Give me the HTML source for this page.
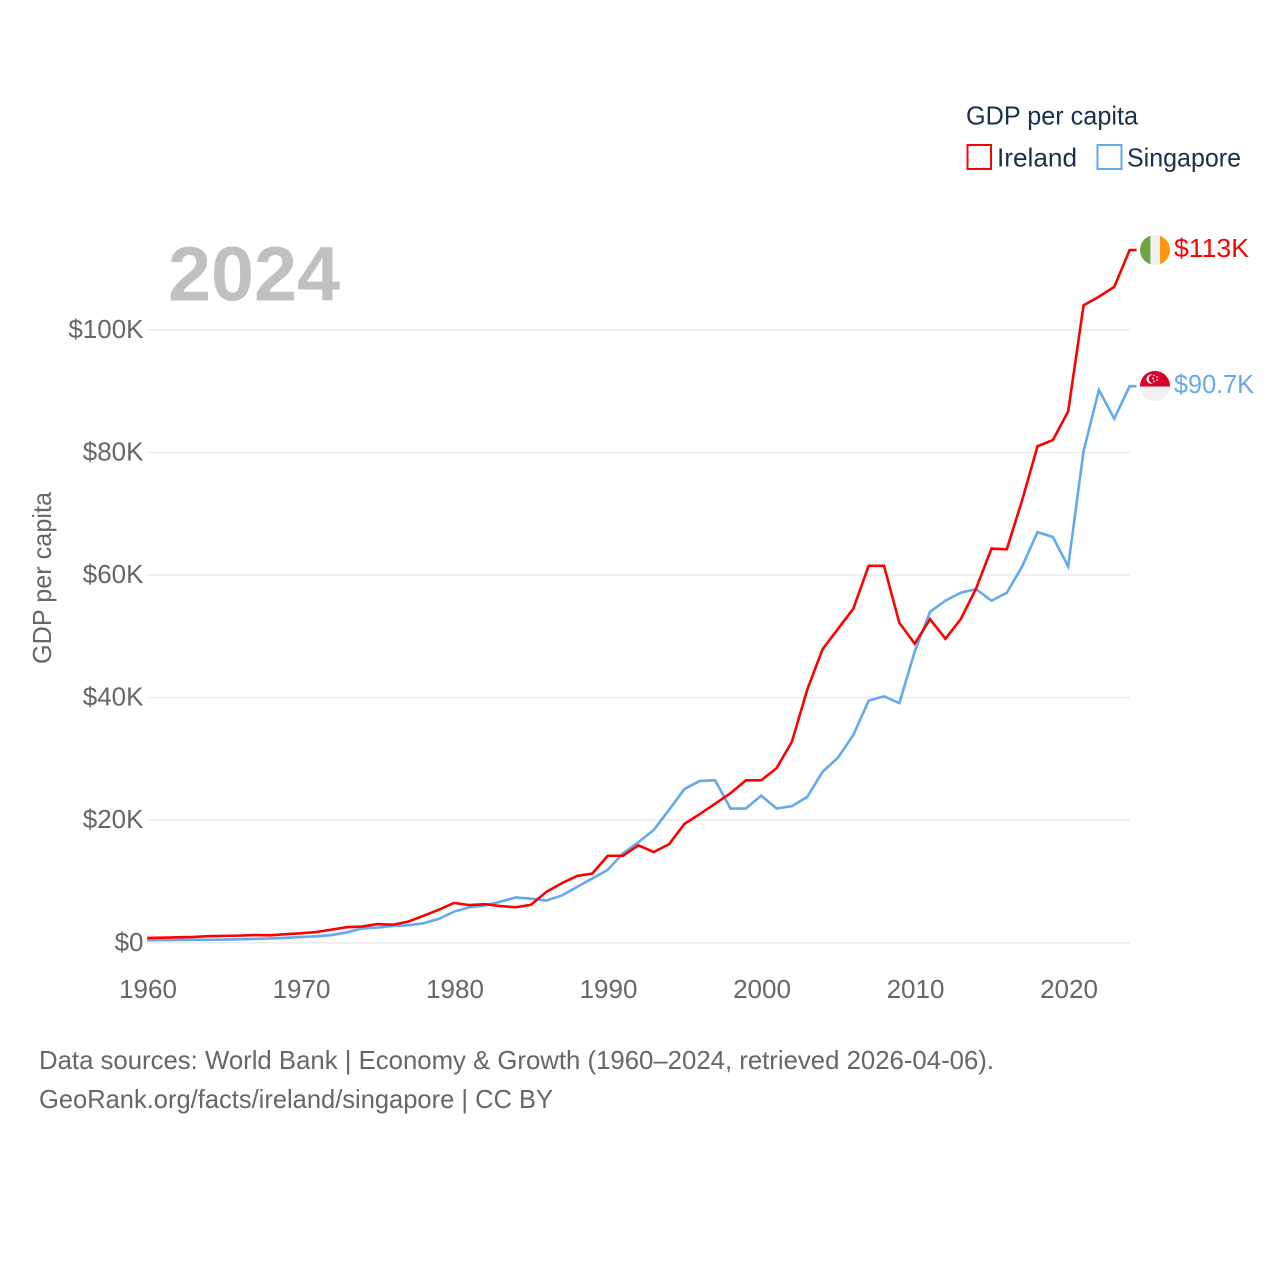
<!DOCTYPE html>
<html lang="en">
<head>
<meta charset="utf-8">
<title>GDP per capita: Ireland vs Singapore</title>
<style>
  html, body { margin: 0; padding: 0; background: #fff; }
  svg { display: block; font-family: "Liberation Sans", sans-serif; }
  .tick { font-size: 26px; fill: #666; }
  .legend { font-size: 26px; fill: #1a2f4f; }
  .foot { font-size: 26px; fill: #666; }
</style>
</head>
<body>
<svg id="chart" xmlns="http://www.w3.org/2000/svg" width="1280" height="1280" viewBox="0 0 1280 1280">
  <defs>
    <clipPath id="flag-clip-ie"><circle cx="1155" cy="250" r="15"/></clipPath>
    <clipPath id="flag-clip-sg"><circle cx="1155" cy="386" r="15"/></clipPath>
  </defs>
  <rect x="0" y="0" width="1280" height="1280" fill="#fff"/>

  <g id="grid"></g>
  <g id="yticks"></g>
  <g id="xticks"></g>

  <text x="168" y="300.5" font-size="77" font-weight="700" fill="#c0c0c0" textLength="172" lengthAdjust="spacingAndGlyphs">2024</text>
  <text transform="translate(51,664) rotate(-90)" font-size="26" fill="#666" textLength="172" lengthAdjust="spacingAndGlyphs">GDP per capita</text>

  <g id="series"></g>

  <g>
    <text class="legend" x="966" y="124.5" textLength="172" lengthAdjust="spacingAndGlyphs">GDP per capita</text>
    <g>
      <rect x="967.5" y="145" width="23.5" height="24" fill="none" stroke="#ff0000" stroke-width="2"/>
      <text class="legend" x="997" y="166.5" textLength="80" lengthAdjust="spacingAndGlyphs">Ireland</text>
    </g>
    <g>
      <rect x="1097.5" y="145" width="24" height="24" fill="none" stroke="#63a9ee" stroke-width="2"/>
      <text class="legend" x="1127" y="166.5" textLength="114" lengthAdjust="spacingAndGlyphs">Singapore</text>
    </g>
  </g>

  <g clip-path="url(#flag-clip-ie)">
    <rect x="1140" y="235" width="30" height="30" fill="#f0f0f0"/>
    <rect x="1140" y="235" width="10.4" height="30" fill="#6da544"/>
    <rect x="1160" y="235" width="10" height="30" fill="#ff9811"/>
  </g>
  <g clip-path="url(#flag-clip-sg)">
    <rect x="1140" y="371" width="30" height="30" fill="#f0f0f0"/>
    <rect x="1140" y="371" width="30" height="15.5" fill="#d80027"/>
    <circle cx="1151" cy="379" r="4.6" fill="#f0f0f0"/>
    <circle cx="1153" cy="379" r="4.2" fill="#d80027"/>
    <circle cx="1154" cy="375.5" r="0.9" fill="#f0f0f0"/>
    <circle cx="1157" cy="377" r="0.9" fill="#f0f0f0"/>
    <circle cx="1157" cy="380" r="0.9" fill="#f0f0f0"/>
    <circle cx="1154" cy="381.5" r="0.9" fill="#f0f0f0"/>
    <circle cx="1153" cy="378.5" r="0.9" fill="#f0f0f0"/>
  </g>

  <g id="endlabels"></g>

  <text class="foot" x="39" y="1069" textLength="955" lengthAdjust="spacingAndGlyphs">Data sources: World Bank | Economy &amp; Growth (1960–2024, retrieved 2026-04-06).</text>
  <text class="foot" x="39" y="1108" textLength="514" lengthAdjust="spacingAndGlyphs">GeoRank.org/facts/ireland/singapore | CC BY</text>
</svg>

<script>
const years = [1960,1961,1962,1963,1964,1965,1966,1967,1968,1969,
  1970,1971,1972,1973,1974,1975,1976,1977,1978,1979,
  1980,1981,1982,1983,1984,1985,1986,1987,1988,1989,
  1990,1991,1992,1993,1994,1995,1996,1997,1998,1999,
  2000,2001,2002,2003,2004,2005,2006,2007,2008,2009,
  2010,2011,2012,2013,2014,2015,2016,2017,2018,2019,
  2020,2021,2022,2023,2024];
const irelandGdp = [0.79,0.84,0.89,0.95,1.08,1.13,1.17,1.26,1.22,1.41,
  1.55,1.75,2.15,2.55,2.65,3.05,2.95,3.45,4.4,5.4,
  6.5,6.15,6.3,6.0,5.8,6.2,8.3,9.7,10.9,11.3,
  14.2,14.2,15.9,14.8,16.1,19.4,21.0,22.7,24.4,26.5,
  26.5,28.5,32.8,41.3,47.9,51.2,54.5,61.5,61.5,52.2,
  48.8,52.8,49.6,52.8,57.8,64.3,64.2,72.2,81.0,82.0,
  86.7,104.0,105.4,107.0,113.0];
const singaporeGdp = [0.43,0.45,0.47,0.50,0.49,0.52,0.57,0.63,0.71,0.82,
  0.93,1.06,1.26,1.69,2.34,2.49,2.75,2.85,3.19,3.9,
  5.1,5.8,6.1,6.7,7.4,7.2,6.9,7.7,9.1,10.5,
  11.9,14.6,16.4,18.4,21.7,25.1,26.4,26.5,21.9,21.9,
  24.0,21.9,22.3,23.8,27.9,30.2,33.9,39.5,40.2,39.1,
  47.5,54.0,55.8,57.1,57.7,55.8,57.1,61.4,67.0,66.2,
  61.4,80.2,90.2,85.5,90.8];
const yTickValues = [0,20,40,60,80,100];
const yTickLabels = ["$0","$20K","$40K","$60K","$80K","$100K"];
const xTickValues = [1960,1970,1980,1990,2000,2010,2020];
const endLabelIreland = "$113K";
const endLabelSingapore = "$90.7K";

const NS = "http://www.w3.org/2000/svg";
const X0 = 147.2, XPERYEAR = 15.35, Y0 = 942.8, YPERK = 6.13;
function xScale(year) { return X0 + (year - 1960) * XPERYEAR; }
function yScale(k) { return Y0 - k * YPERK; }

const gridG = document.getElementById("grid");
const yG = document.getElementById("yticks");
const xG = document.getElementById("xticks");
const seriesG = document.getElementById("series");
const endG = document.getElementById("endlabels");

yTickValues.forEach(function (v, i) {
  const line = document.createElementNS(NS, "line");
  
  
  line.setAttribute("x1", xScale(1960));
  line.setAttribute("x2", 1130);
  line.setAttribute("y1", yScale(v));
  line.setAttribute("y2", yScale(v));
  line.setAttribute("stroke", "#ececec");
  line.setAttribute("stroke-width", "1.6");
  gridG.appendChild(line);

  const t = document.createElementNS(NS, "text");
  
  
  t.setAttribute("class", "tick");
  t.setAttribute("x", 143.5);
  t.setAttribute("y", yScale(v) + 8);
  t.setAttribute("text-anchor", "end");
  t.textContent = yTickLabels[i];
  yG.appendChild(t);
});

xTickValues.forEach(function (v) {
  const t = document.createElementNS(NS, "text");
  
  
  t.setAttribute("class", "tick");
  t.setAttribute("x", xScale(v) + 0.8);
  t.setAttribute("y", 998);
  t.setAttribute("text-anchor", "middle");
  t.textContent = String(v);
  xG.appendChild(t);
});

function seriesPoints(values) {
  const pts = values.map(function (v, i) {
    return xScale(years[i]).toFixed(2) + "," + yScale(v).toFixed(2);
  });
  const last = values.length - 1;
  pts.push((xScale(years[last]) + 7).toFixed(2) + "," + yScale(values[last]).toFixed(2));
  return pts.join(" ");
}

const singaporeLine = document.createElementNS(NS, "polyline");


singaporeLine.setAttribute("points", seriesPoints(singaporeGdp));
singaporeLine.setAttribute("fill", "none");
singaporeLine.setAttribute("stroke", "#63a9ee");
singaporeLine.setAttribute("stroke-width", "2.6");
seriesG.appendChild(singaporeLine);

const irelandLine = document.createElementNS(NS, "polyline");


irelandLine.setAttribute("points", seriesPoints(irelandGdp));
irelandLine.setAttribute("fill", "none");
irelandLine.setAttribute("stroke", "#ff0000");
irelandLine.setAttribute("stroke-width", "2.6");
seriesG.appendChild(irelandLine);

const irelandEnd = document.createElementNS(NS, "text");


irelandEnd.setAttribute("x", 1174);
irelandEnd.setAttribute("y", yScale(irelandGdp[irelandGdp.length - 1]) + 7);
irelandEnd.setAttribute("font-size", "26");
irelandEnd.setAttribute("fill", "#ff0000");
irelandEnd.setAttribute("textLength", "75");
irelandEnd.setAttribute("lengthAdjust", "spacingAndGlyphs");
irelandEnd.textContent = endLabelIreland;
endG.appendChild(irelandEnd);

const singaporeEnd = document.createElementNS(NS, "text");


singaporeEnd.setAttribute("x", 1174);
singaporeEnd.setAttribute("y", yScale(singaporeGdp[singaporeGdp.length - 1]) + 7);
singaporeEnd.setAttribute("font-size", "26");
singaporeEnd.setAttribute("fill", "#63a9ee");
singaporeEnd.setAttribute("textLength", "80");
singaporeEnd.setAttribute("lengthAdjust", "spacingAndGlyphs");
singaporeEnd.textContent = endLabelSingapore;
endG.appendChild(singaporeEnd);
</script>
</body>
</html>
